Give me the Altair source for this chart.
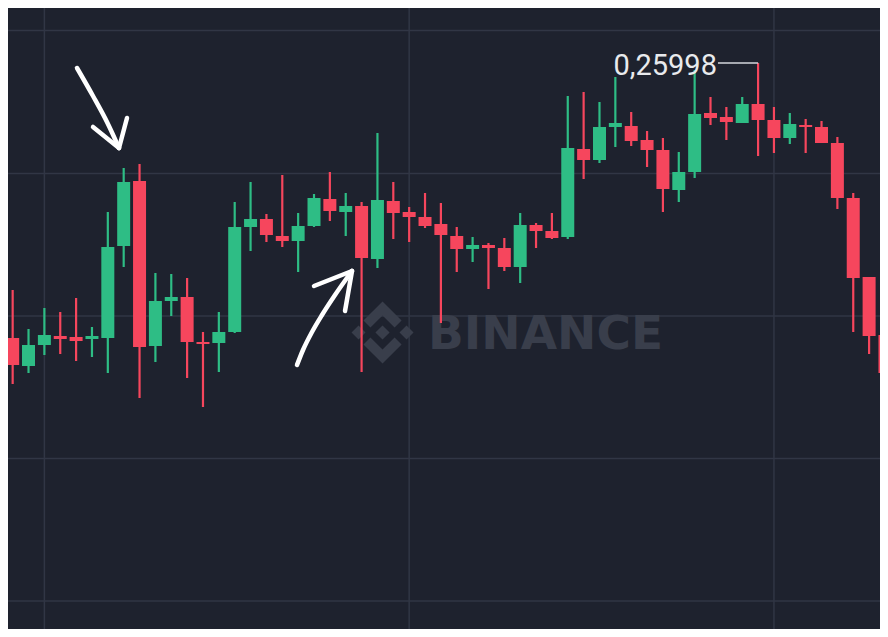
import altair as alt
import pandas as pd

BG = "#1e222e"
GRID = "#313645"
UP = "#2ebd85"
DOWN = "#f6465d"
WM = "#393e4b"

# ---- candle data (price) ----
candle_index = list(range(57))
opens = [0.25494, 0.25448, 0.25392, 0.25434, 0.25452, 0.25450, 0.25446, 0.25448, 0.25632, 0.25762,
         0.25432, 0.25522, 0.25530, 0.25440, 0.25438, 0.25460, 0.25670, 0.25686, 0.25652, 0.25642,
         0.25672, 0.25726, 0.25700, 0.25712, 0.25606, 0.25722, 0.25700, 0.25690, 0.25676, 0.25652,
         0.25626, 0.25634, 0.25628, 0.25590, 0.25674, 0.25662, 0.25650, 0.25826, 0.25804, 0.25870,
         0.25872, 0.25844, 0.25824, 0.25744, 0.25780, 0.25898, 0.25890, 0.25878, 0.25916, 0.25884,
         0.25848, 0.25874, 0.25870, 0.25838, 0.25728, 0.25570, 0.25454]
highs = [0.25504, 0.25544, 0.25466, 0.25508, 0.25500, 0.25528, 0.25470, 0.25700, 0.25788, 0.25796,
         0.25578, 0.25576, 0.25568, 0.25460, 0.25500, 0.25720, 0.25760, 0.25696, 0.25774, 0.25698,
         0.25736, 0.25780, 0.25738, 0.25720, 0.25858, 0.25760, 0.25710, 0.25738, 0.25718, 0.25670,
         0.25650, 0.25638, 0.25648, 0.25698, 0.25678, 0.25698, 0.25932, 0.25940, 0.25920, 0.25970,
         0.25900, 0.25862, 0.25848, 0.25820, 0.25984, 0.25930, 0.25910, 0.25930, 0.25998, 0.25910,
         0.25898, 0.25886, 0.25882, 0.25850, 0.25738, 0.25570, 0.25500]
lows = [0.25434, 0.25356, 0.25378, 0.25414, 0.25416, 0.25402, 0.25410, 0.25378, 0.25590, 0.25328,
        0.25400, 0.25492, 0.25368, 0.25310, 0.25380, 0.25458, 0.25622, 0.25640, 0.25630, 0.25580,
        0.25670, 0.25682, 0.25652, 0.25380, 0.25588, 0.25646, 0.25640, 0.25668, 0.25478, 0.25580,
        0.25600, 0.25546, 0.25582, 0.25558, 0.25628, 0.25646, 0.25646, 0.25766, 0.25798, 0.25830,
        0.25832, 0.25790, 0.25700, 0.25720, 0.25768, 0.25874, 0.25844, 0.25878, 0.25812, 0.25818,
        0.25836, 0.25818, 0.25838, 0.25706, 0.25460, 0.25416, 0.25298]
closes = [0.25448, 0.25394, 0.25434, 0.25454, 0.25446, 0.25442, 0.25452, 0.25630, 0.25760, 0.25430,
          0.25522, 0.25530, 0.25440, 0.25436, 0.25460, 0.25670, 0.25686, 0.25654, 0.25642, 0.25672,
          0.25728, 0.25702, 0.25712, 0.25608, 0.25724, 0.25698, 0.25690, 0.25672, 0.25654, 0.25626,
          0.25634, 0.25628, 0.25590, 0.25674, 0.25662, 0.25648, 0.25828, 0.25804, 0.25870, 0.25878,
          0.25842, 0.25824, 0.25746, 0.25780, 0.25896, 0.25888, 0.25880, 0.25916, 0.25884, 0.25848,
          0.25876, 0.25870, 0.25838, 0.25728, 0.25568, 0.25452, 0.25378]

grid_x = [3, 26, 49]
grid_y = [0.26063, 0.25777, 0.25492, 0.25207, 0.24922]

# max price label
max_label = "0,25998"
max_label_x = 45.47
max_label_y = 0.25974
max_line_x = [45.47, 48.0]
max_price = 0.25998

# hand-drawn arrows (data coordinates)
arrow_seg = ["a1", "a1", "a1", "a1", "a1L", "a1L", "a1R", "a1R",
             "a2", "a2", "a2", "a2", "a2", "a2", "a2L", "a2L", "a2R", "a2R"]
arrow_ord = [0, 1, 2, 3, 0, 1, 0, 1,
             0, 1, 2, 3, 4, 5, 0, 1, 0, 1]
arrow_x = [5.057, 6.066, 6.948, 7.705, 6.066, 7.705, 8.209, 7.705,
           18.928, 19.306, 19.874, 20.504, 21.324, 22.396, 20.000, 22.396, 21.955, 22.396]
arrow_y = [0.25988, 0.25932, 0.25880, 0.25828, 0.25870, 0.25828, 0.25888, 0.25828,
           0.25394, 0.25424, 0.25460, 0.25494, 0.25534, 0.25582, 0.25552, 0.25582, 0.25502, 0.25582]

# watermark
wm_logo_x, wm_logo_y = 24.32, 0.25459
wm_text_x, wm_text_y = 27.19, 0.25427
LOGO = ("M-0.389,-0.159L0,-0.547L0.389,-0.159L0.615,-0.385L0,-1L-0.614,-0.386Z"
        "M-1,0L-0.774,-0.226L-0.548,0L-0.774,0.226Z"
        "M-0.389,0.159L0,0.547L0.389,0.159L0.615,0.385L0,1L-0.614,0.386Z"
        "M1,0L0.774,-0.226L0.548,0L0.774,0.226Z"
        "M0.229,0L0,-0.229L-0.229,0L0,0.229Z")

df = pd.DataFrame({"i": candle_index, "open": opens, "high": highs,
                   "low": lows, "close": closes})
df["dir"] = ["up" if c >= o else "down" for o, c in zip(opens, closes)]

xs = alt.Scale(domain=[0.706, 55.687], nice=False, zero=False, padding=0)
ys = alt.Scale(domain=[0.24866, 0.26108], nice=False, zero=False, padding=0)
col = alt.Color("dir:N", scale=alt.Scale(domain=["up", "down"], range=[UP, DOWN]), legend=None)

gx = alt.Chart(pd.DataFrame({"gx": grid_x})).mark_rule(color=GRID, strokeWidth=1.5).encode(
    x=alt.X("gx:Q", scale=xs, axis=None))
gy = alt.Chart(pd.DataFrame({"gy": grid_y})).mark_rule(color=GRID, strokeWidth=1.5).encode(
    y=alt.Y("gy:Q", scale=ys, axis=None))

logo = alt.Chart(pd.DataFrame({"x": [wm_logo_x], "y": [wm_logo_y]})).mark_point(
    shape=LOGO, size=3844, filled=True, color=WM, opacity=1, strokeWidth=0).encode(
    x=alt.X("x:Q", scale=xs, axis=None), y=alt.Y("y:Q", scale=ys, axis=None))
wm_text = alt.Chart(pd.DataFrame({"x": [wm_text_x], "y": [wm_text_y], "t": ["BINANCE"]})).mark_text(
    font="DejaVu Sans", fontWeight="bold", fontSize=47, align="left", baseline="alphabetic",
    color=WM).encode(
    x=alt.X("x:Q", scale=xs, axis=None), y=alt.Y("y:Q", scale=ys, axis=None), text="t:N")

base = alt.Chart(df)
wicks = base.mark_rule(strokeWidth=2.2, clip=True).encode(
    x=alt.X("i:Q", scale=xs, axis=None),
    y=alt.Y("low:Q", scale=ys, axis=None), y2="high:Q", color=col)
bodies = base.mark_bar(size=13, clip=True).encode(
    x=alt.X("i:Q", scale=xs, axis=None),
    y=alt.Y("open:Q", scale=ys, axis=None), y2="close:Q", color=col)

lbl_line = alt.Chart(pd.DataFrame({"x": [max_line_x[0]], "x2": [max_line_x[1]], "y": [max_price]})).mark_rule(
    color="#d4d7dc", strokeWidth=1.5).encode(
    x=alt.X("x:Q", scale=xs, axis=None), x2="x2:Q", y=alt.Y("y:Q", scale=ys, axis=None))
lbl_text = alt.Chart(pd.DataFrame({"x": [max_label_x], "y": [max_label_y], "t": [max_label]})).mark_text(
    font="Roboto", fontSize=29, align="right", baseline="alphabetic", color="#e8eaed", dx=-1).encode(
    x=alt.X("x:Q", scale=xs, axis=None), y=alt.Y("y:Q", scale=ys, axis=None), text="t:N")

arrows = alt.Chart(pd.DataFrame({"seg": arrow_seg, "ord": arrow_ord, "x": arrow_x, "y": arrow_y})).mark_line(
    color="#ffffff", strokeWidth=4.5, strokeCap="round", strokeJoin="round", interpolate="monotone").encode(
    x=alt.X("x:Q", scale=xs, axis=None), y=alt.Y("y:Q", scale=ys, axis=None),
    detail="seg:N", order="ord:Q")

chart = alt.layer(gx, gy, logo, wm_text, wicks, bodies, lbl_line, lbl_text, arrows).properties(
    width=872, height=621, background=BG, padding=0,
    autosize=alt.AutoSizeParams(type="none")
).configure_view(stroke=None)

chart.save("out.html", embed_options={"renderer": "svg", "actions": False})
